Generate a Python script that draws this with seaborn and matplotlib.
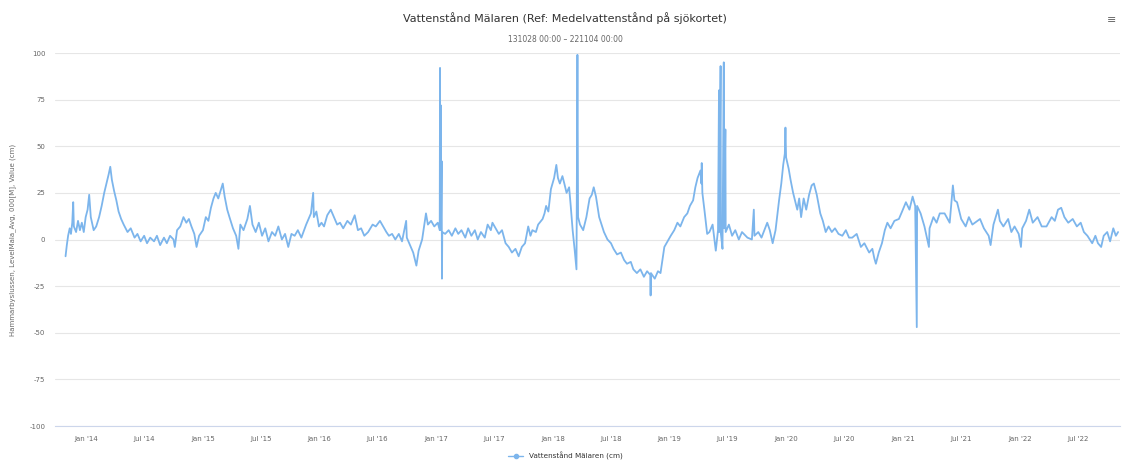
import pandas as pd
import matplotlib.pyplot as plt
import matplotlib.dates as mdates
from matplotlib.lines import Line2D
import seaborn as sns

# Water level readings (cm), per year
lvl_2013 = [("2013-10-28", -9), ("2013-11-01", -3), ("2013-11-05", 2), ("2013-11-10", 6), ("2013-11-14", 3),
            ("2013-11-18", 9), ("2013-11-21", 20), ("2013-11-23", 7), ("2013-11-30", 4), ("2013-12-06", 10),
            ("2013-12-12", 5), ("2013-12-18", 9), ("2013-12-24", 4), ("2013-12-30", 12)]
lvl_2014 = [("2014-01-05", 16), ("2014-01-10", 24), ("2014-01-15", 12), ("2014-01-24", 5), ("2014-02-01", 7),
            ("2014-02-10", 12), ("2014-02-18", 18), ("2014-02-26", 25), ("2014-03-05", 30), ("2014-03-12", 35),
            ("2014-03-17", 39), ("2014-03-22", 32), ("2014-03-29", 26), ("2014-04-05", 21), ("2014-04-12", 15),
            ("2014-04-20", 11), ("2014-04-28", 8), ("2014-05-10", 4), ("2014-05-20", 6), ("2014-06-01", 1),
            ("2014-06-10", 3), ("2014-06-20", -1), ("2014-07-01", 2), ("2014-07-10", -2), ("2014-07-20", 1),
            ("2014-08-01", -1), ("2014-08-10", 2), ("2014-08-20", -3), ("2014-09-01", 1), ("2014-09-10", -2),
            ("2014-09-20", 2), ("2014-10-01", 0), ("2014-10-05", -4), ("2014-10-12", 5), ("2014-10-22", 7),
            ("2014-11-01", 12), ("2014-11-10", 9), ("2014-11-18", 11), ("2014-11-26", 7), ("2014-12-05", 3),
            ("2014-12-12", -4), ("2014-12-20", 2)]
lvl_2015 = [("2015-01-01", 5), ("2015-01-10", 12), ("2015-01-18", 10), ("2015-01-26", 17), ("2015-02-03", 22),
            ("2015-02-10", 25), ("2015-02-18", 22), ("2015-02-25", 26), ("2015-03-04", 30), ("2015-03-10", 23),
            ("2015-03-18", 16), ("2015-03-25", 12), ("2015-04-05", 6), ("2015-04-15", 2), ("2015-04-22", -5),
            ("2015-04-28", 8), ("2015-05-08", 5), ("2015-05-20", 11), ("2015-05-28", 18), ("2015-06-05", 8),
            ("2015-06-15", 4), ("2015-06-25", 9), ("2015-07-05", 2), ("2015-07-15", 6), ("2015-07-25", -1),
            ("2015-08-05", 4), ("2015-08-15", 2), ("2015-08-25", 7), ("2015-09-05", 0), ("2015-09-15", 3),
            ("2015-09-25", -4), ("2015-10-05", 3), ("2015-10-15", 2), ("2015-10-25", 5), ("2015-11-05", 1),
            ("2015-11-20", 8), ("2015-12-05", 14), ("2015-12-12", 25), ("2015-12-14", 12), ("2015-12-22", 15),
            ("2015-12-30", 7)]
lvl_2016 = [("2016-01-07", 9), ("2016-01-15", 7), ("2016-01-25", 13), ("2016-02-05", 16), ("2016-02-15", 12),
            ("2016-02-25", 8), ("2016-03-05", 9), ("2016-03-15", 6), ("2016-03-28", 10), ("2016-04-08", 8),
            ("2016-04-20", 13), ("2016-04-30", 5), ("2016-05-10", 6), ("2016-05-20", 2), ("2016-06-01", 4),
            ("2016-06-15", 8), ("2016-06-25", 7), ("2016-07-08", 10), ("2016-07-18", 7), ("2016-07-28", 4),
            ("2016-08-05", 2), ("2016-08-15", 3), ("2016-08-25", 0), ("2016-09-05", 3), ("2016-09-15", -1),
            ("2016-09-28", 10), ("2016-09-30", 1), ("2016-10-10", -3), ("2016-10-20", -7), ("2016-10-30", -14),
            ("2016-11-06", -6), ("2016-11-17", 0), ("2016-11-29", 14), ("2016-12-05", 8), ("2016-12-15", 10),
            ("2016-12-25", 7)]
lvl_2017 = [("2017-01-05", 9), ("2017-01-11", 5), ("2017-01-12", 92), ("2017-01-13", 5), ("2017-01-14", 72),
            ("2017-01-15", 6), ("2017-01-17", 42), ("2017-01-18", -21), ("2017-01-19", 4), ("2017-01-28", 3),
            ("2017-02-08", 5), ("2017-02-18", 2), ("2017-03-01", 6), ("2017-03-10", 3), ("2017-03-20", 5),
            ("2017-04-01", 1), ("2017-04-10", 6), ("2017-04-20", 2), ("2017-05-01", 5), ("2017-05-10", 0),
            ("2017-05-20", 4), ("2017-06-01", 1), ("2017-06-10", 8), ("2017-06-20", 5), ("2017-06-25", 9),
            ("2017-07-05", 6), ("2017-07-15", 3), ("2017-07-25", 5), ("2017-08-05", -2), ("2017-08-15", -4),
            ("2017-08-25", -7), ("2017-09-05", -5), ("2017-09-15", -9), ("2017-09-25", -4), ("2017-10-05", -2),
            ("2017-10-15", 7), ("2017-10-22", 2), ("2017-10-28", 5), ("2017-11-08", 4), ("2017-11-15", 8),
            ("2017-11-29", 11), ("2017-12-05", 14), ("2017-12-10", 18), ("2017-12-17", 15), ("2017-12-25", 27)]
lvl_2018 = [("2018-01-04", 33), ("2018-01-11", 40), ("2018-01-16", 33), ("2018-01-22", 30), ("2018-01-30", 34),
            ("2018-02-05", 30), ("2018-02-12", 25), ("2018-02-20", 28), ("2018-02-25", 18), ("2018-03-03", 5),
            ("2018-03-09", -5), ("2018-03-15", -16), ("2018-03-18", 99), ("2018-03-20", 12), ("2018-03-26", 8),
            ("2018-04-05", 5), ("2018-04-15", 12), ("2018-04-25", 22), ("2018-05-02", 24), ("2018-05-08", 28),
            ("2018-05-15", 23), ("2018-05-25", 12), ("2018-06-09", 4), ("2018-06-20", 0), ("2018-07-01", -2),
            ("2018-07-09", -5), ("2018-07-20", -8), ("2018-08-01", -7), ("2018-08-11", -11), ("2018-08-20", -13),
            ("2018-09-01", -12), ("2018-09-09", -16), ("2018-09-20", -18), ("2018-10-01", -16), ("2018-10-12", -20),
            ("2018-10-22", -17), ("2018-11-01", -19), ("2018-11-02", -30), ("2018-11-03", -18), ("2018-11-15", -21),
            ("2018-11-25", -17), ("2018-12-03", -18), ("2018-12-10", -10), ("2018-12-15", -4), ("2018-12-25", -1)]
lvl_2019 = [("2019-01-04", 2), ("2019-01-15", 5), ("2019-01-25", 9), ("2019-02-03", 7), ("2019-02-15", 12),
            ("2019-02-25", 14), ("2019-03-05", 18), ("2019-03-15", 21), ("2019-03-22", 28), ("2019-03-29", 33),
            ("2019-04-07", 37), ("2019-04-10", 30), ("2019-04-11", 41), ("2019-04-13", 25), ("2019-04-20", 15),
            ("2019-04-28", 3), ("2019-05-05", 4), ("2019-05-15", 8), ("2019-05-25", -6), ("2019-06-01", 5),
            ("2019-06-04", 80), ("2019-06-05", 4), ("2019-06-09", 93), ("2019-06-10", 3), ("2019-06-15", -5),
            ("2019-06-19", 95), ("2019-06-20", 6), ("2019-06-24", 59), ("2019-06-25", 4), ("2019-07-05", 8),
            ("2019-07-15", 2), ("2019-07-25", 5), ("2019-08-05", 0), ("2019-08-15", 4), ("2019-09-01", 1),
            ("2019-09-15", 0), ("2019-09-21", 16), ("2019-09-23", 2), ("2019-10-05", 4), ("2019-10-15", 1),
            ("2019-11-02", 9), ("2019-11-10", 5), ("2019-11-19", -2), ("2019-11-28", 5), ("2019-12-09", 21),
            ("2019-12-16", 30), ("2019-12-22", 40), ("2019-12-27", 46), ("2019-12-29", 60), ("2019-12-31", 44)]
lvl_2020 = [("2020-01-08", 38), ("2020-01-14", 32), ("2020-01-22", 25), ("2020-02-04", 16), ("2020-02-10", 22),
            ("2020-02-16", 12), ("2020-02-24", 22), ("2020-03-03", 16), ("2020-03-12", 24), ("2020-03-20", 29),
            ("2020-03-27", 30), ("2020-04-05", 24), ("2020-04-16", 14), ("2020-04-24", 10), ("2020-05-03", 4),
            ("2020-05-12", 7), ("2020-05-22", 4), ("2020-06-01", 6), ("2020-06-12", 3), ("2020-06-24", 2),
            ("2020-07-05", 5), ("2020-07-15", 1), ("2020-07-25", 1), ("2020-08-08", 3), ("2020-08-21", -4),
            ("2020-09-01", -2), ("2020-09-16", -7), ("2020-09-26", -5), ("2020-10-02", -10), ("2020-10-07", -13),
            ("2020-10-16", -7), ("2020-10-26", -2), ("2020-11-04", 5), ("2020-11-12", 9), ("2020-11-22", 6),
            ("2020-12-04", 10), ("2020-12-18", 11), ("2020-12-28", 15)]
lvl_2021 = [("2021-01-09", 20), ("2021-01-20", 16), ("2021-01-30", 23), ("2021-02-07", 18), ("2021-02-12", -47),
            ("2021-02-13", 18), ("2021-02-24", 14), ("2021-03-08", 7), ("2021-03-22", -4), ("2021-03-24", 6),
            ("2021-04-05", 12), ("2021-04-15", 9), ("2021-04-25", 14), ("2021-05-10", 14), ("2021-05-26", 9),
            ("2021-06-05", 29), ("2021-06-10", 21), ("2021-06-18", 20), ("2021-07-01", 11), ("2021-07-15", 7),
            ("2021-07-25", 12), ("2021-08-05", 8), ("2021-08-29", 11), ("2021-09-10", 6), ("2021-09-25", 2),
            ("2021-10-01", -3), ("2021-10-10", 8), ("2021-10-24", 16), ("2021-10-30", 10), ("2021-11-10", 7),
            ("2021-11-25", 11), ("2021-12-05", 4), ("2021-12-15", 7), ("2021-12-28", 3)]
lvl_2022 = [("2022-01-04", -4), ("2022-01-08", 6), ("2022-01-20", 10), ("2022-01-30", 16), ("2022-02-10", 9),
            ("2022-02-25", 12), ("2022-03-10", 7), ("2022-03-25", 7), ("2022-04-10", 12), ("2022-04-20", 10),
            ("2022-04-30", 16), ("2022-05-10", 17), ("2022-05-20", 12), ("2022-06-01", 9), ("2022-06-15", 11),
            ("2022-06-28", 7), ("2022-07-10", 9), ("2022-07-20", 4), ("2022-07-31", 2), ("2022-08-15", -2),
            ("2022-08-25", 2), ("2022-09-02", -2), ("2022-09-12", -4), ("2022-09-20", 2), ("2022-10-01", 4),
            ("2022-10-10", -1), ("2022-10-20", 6), ("2022-10-28", 2), ("2022-11-04", 4)]

y_ticks = [-100, -75, -50, -25, 0, 25, 50, 75, 100]

rows = lvl_2013 + lvl_2014 + lvl_2015 + lvl_2016 + lvl_2017 + lvl_2018 + lvl_2019 + lvl_2020 + lvl_2021 + lvl_2022
df = pd.DataFrame(rows, columns=["date", "level"])
df["date"] = pd.to_datetime(df["date"])

sns.set_style("white")
plt.rcParams["font.family"] = ["DejaVu Sans"]

fig = plt.figure(figsize=(11.24, 4.61), dpi=100)
ax = fig.add_axes([55 / 1124, 1 - 426 / 461, 1065 / 1124, 373 / 461])

line_col = "#7cb5ec"
sns.lineplot(data=df, x="date", y="level", color=line_col, linewidth=1.3,
             estimator=None, ax=ax, legend=False)

ax.set_ylim(-100, 100)
ax.set_yticks(y_ticks)
ax.set_yticklabels([str(v) for v in y_ticks])
ax.set_xlim(pd.Timestamp("2013-09-25"), pd.Timestamp("2022-11-10"))
ax.xaxis.set_major_locator(mdates.MonthLocator(bymonth=[1, 7]))
ax.xaxis.set_major_formatter(mdates.DateFormatter("%b '%y"))

ax.yaxis.grid(True, color="#e6e6e6", linewidth=0.8)
ax.set_axisbelow(True)
for s in ["top", "right", "left"]:
    ax.spines[s].set_visible(False)
ax.spines["bottom"].set_color("#ccd6eb")
ax.spines["bottom"].set_linewidth(0.8)

ax.tick_params(axis="y", length=0, pad=7, labelsize=5, labelcolor="#666666")
ax.tick_params(axis="x", length=4, width=0.8, color="#ccd6eb", pad=3, labelsize=5, labelcolor="#666666")

ax.set_xlabel("")
ax.set_ylabel("Hammarbyslussen, LevelMala_Avg, 000[M], Value (cm)", fontsize=5, color="#666666")
ax.yaxis.set_label_coords(-(55 - 16) / 1065, 0.5)

fig.text(0.503, 1 - 18 / 461, "Vattenstånd Mälaren (Ref: Medelvattenstånd på sjökortet)",
         ha="center", va="center", fontsize=8, color="#333333")
fig.text(0.503, 1 - 39 / 461, "131028 00:00 – 221104 00:00",
         ha="center", va="center", fontsize=5.5, color="#666666")
fig.text(1112 / 1124, 1 - 20 / 461, "≡", ha="center", va="center", fontsize=8, color="#666666")

handle = Line2D([0], [0], color=line_col, linewidth=1.0, marker="o", markersize=3)
fig.legend([handle], ["Vattenstånd Mälaren (cm)"], loc="center", bbox_to_anchor=(0.503, 1 - 456 / 461),
           frameon=False, fontsize=5.2, labelcolor="#333333", handlelength=2.0)

fig.savefig("out.png", dpi=100)
